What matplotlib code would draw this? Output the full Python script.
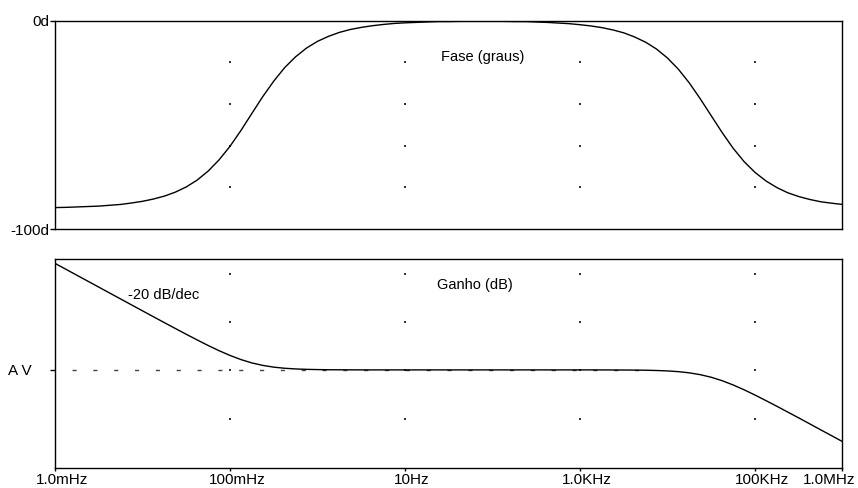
import matplotlib
matplotlib.use("Agg")
import matplotlib.pyplot as plt
import matplotlib.transforms as mtransforms
import numpy as np

plt.rcParams['font.family'] = ['Liberation Sans', 'DejaVu Sans']

# frequency points (log10 of Hz), eighth decade steps
freq_exp = [-3.0, -2.875, -2.75, -2.625, -2.5, -2.375, -2.25, -2.125,
            -2.0, -1.875, -1.75, -1.625, -1.5, -1.375, -1.25, -1.125,
            -1.0, -0.875, -0.75, -0.625, -0.5, -0.375, -0.25, -0.125,
            0.0, 0.125, 0.25, 0.375, 0.5, 0.625, 0.75, 0.875,
            1.0, 1.125, 1.25, 1.375, 1.5, 1.625, 1.75, 1.875,
            2.0, 2.125, 2.25, 2.375, 2.5, 2.625, 2.75, 2.875,
            3.0, 3.125, 3.25, 3.375, 3.5, 3.625, 3.75, 3.875,
            4.0, 4.125, 4.25, 4.375, 4.5, 4.625, 4.75, 4.875,
            5.0, 5.125, 5.25, 5.375, 5.5, 5.625, 5.75, 5.875,
            6.0]

# phase in degrees
phase_deg = [-89.7, -89.6, -89.4, -89.2, -89.0, -88.6, -88.2, -87.5,
             -86.7, -85.6, -84.2, -82.3, -79.8, -76.5, -72.2, -66.8,
             -60.3, -52.7, -44.5, -36.4, -29.0, -22.5, -17.3, -13.1,
             -9.9, -7.5, -5.6, -4.2, -3.2, -2.4, -1.8, -1.3,
             -1.0, -0.8, -0.6, -0.4, -0.4, -0.3, -0.3, -0.3,
             -0.3, -0.3, -0.4, -0.4, -0.6, -0.8, -1.1, -1.4,
             -1.9, -2.5, -3.3, -4.4, -5.8, -7.8, -10.3, -13.6,
             -17.9, -23.3, -29.9, -37.5, -45.6, -53.7, -61.2, -67.6,
             -72.8, -76.9, -80.1, -82.6, -84.4, -85.8, -86.9, -87.6,
             -88.2]

# gain in dB relative to AV
gain_db = [44.86, 42.36, 39.86, 37.36, 34.86, 32.36, 29.87, 27.36,
           24.87, 22.38, 19.90, 17.44, 15.0, 12.61, 10.28, 8.09,
           6.09, 4.35, 2.94, 1.89, 1.16, 0.69, 0.40, 0.23,
           0.13, 0.07, 0.04, 0.02, 0.01, 0.0, 0.0, 0.0,
           0.0, 0.0, 0.0, 0.0, 0.0, 0.0, 0.0, 0.0,
           0.0, 0.0, 0.0, 0.0, 0.0, 0.0, 0.0, 0.0,
           0.0, 0.0, -0.01, -0.03, -0.05, -0.08, -0.14, -0.25,
           -0.43, -0.74, -1.24, -2.01, -3.10, -4.55, -6.33, -8.36,
           -10.58, -12.92, -15.31, -17.76, -20.21, -22.70, -25.21, -27.68,
           -30.19]

xtick_vals = [1e-3, 1e-1, 1e1, 1e3, 1e5, 1e6]
xtick_labels = ["1.0mHz", "100mHz", "10Hz", "1.0KHz", "100KHz", "1.0MHz"]

freq = 10.0 ** np.array(freq_exp)

fig = plt.figure(figsize=(8.58, 4.88), dpi=100)
ax1 = fig.add_axes([0.0641, 0.5307, 0.9178, 0.4268])
ax2 = fig.add_axes([0.0641, 0.0410, 0.9178, 0.4283])

# dotted grid (single pixel dots)
grid_x = [1e-1, 1e1, 1e3, 1e5]
for ax, levels in [(ax1, [-20, -40, -60, -80]), (ax2, [40.5, 20.2, 0, -20.6])]:
    gx, gy = np.meshgrid(grid_x, levels)
    ax.scatter(gx.ravel(), gy.ravel(), s=0.6, marker='s', color='#333333',
               linewidths=0, zorder=1)

# phase
ax1.plot(freq, phase_deg, color='black', lw=1.0, zorder=3)
ax1.set_xscale('log')
ax1.set_xlim(1e-3, 1e6)
ax1.set_ylim(-100, 0)
ax1.set_xticks([])
ax1.minorticks_off()
ax1.set_yticks([0, -100])
ax1.set_yticklabels(["0d", "-100d"])
ax1.tick_params(axis='y', length=3.6, width=1.0, pad=0.5, labelsize=11)
ax1.text(26, -17.4, "Fase (graus)", fontsize=10.5, ha='left', va='center')

# gain
ax2.plot([10 ** -2.806, 10 ** 3.85], [0, 0], color='#444444', lw=1.0,
         linestyle=(0, (3, 12)), zorder=2)
ax2.plot(freq, gain_db, color='black', lw=1.0, zorder=3)
ax2.set_xscale('log')
ax2.set_xlim(1e-3, 1e6)
ax2.set_ylim(-41.3, 46.7)
ax2.minorticks_off()
ax2.set_xticks(xtick_vals)
ax2.set_xticklabels(xtick_labels)
ax2.set_yticks([0])
ax2.set_yticklabels(["A V"])
ax2.tick_params(axis='y', length=3.6, width=1.0, pad=13, labelsize=11)
ax2.tick_params(axis='x', length=2.5, width=1.0, pad=1, labelsize=11)
ax2.text(23, 35.8, "Ganho (dB)", fontsize=10.5, ha='left', va='center')
ax2.text(0.0068, 31.6, "-20 dB/dec", fontsize=10.5, ha='left', va='center')

# shift the x labels a bit to the right like the original, last one kept inside
labels = ax2.get_xticklabels()
for lab in labels[:-1]:
    lab.set_transform(lab.get_transform() +
                      mtransforms.ScaledTranslation(0.07, 0, fig.dpi_scale_trans))
labels[-1].set_horizontalalignment('right')
labels[-1].set_transform(labels[-1].get_transform() +
                         mtransforms.ScaledTranslation(0.13, 0, fig.dpi_scale_trans))

for ax in (ax1, ax2):
    for sp in ax.spines.values():
        sp.set_linewidth(1.0)
        sp.set_color('black')

fig.savefig("out.png", dpi=100)
